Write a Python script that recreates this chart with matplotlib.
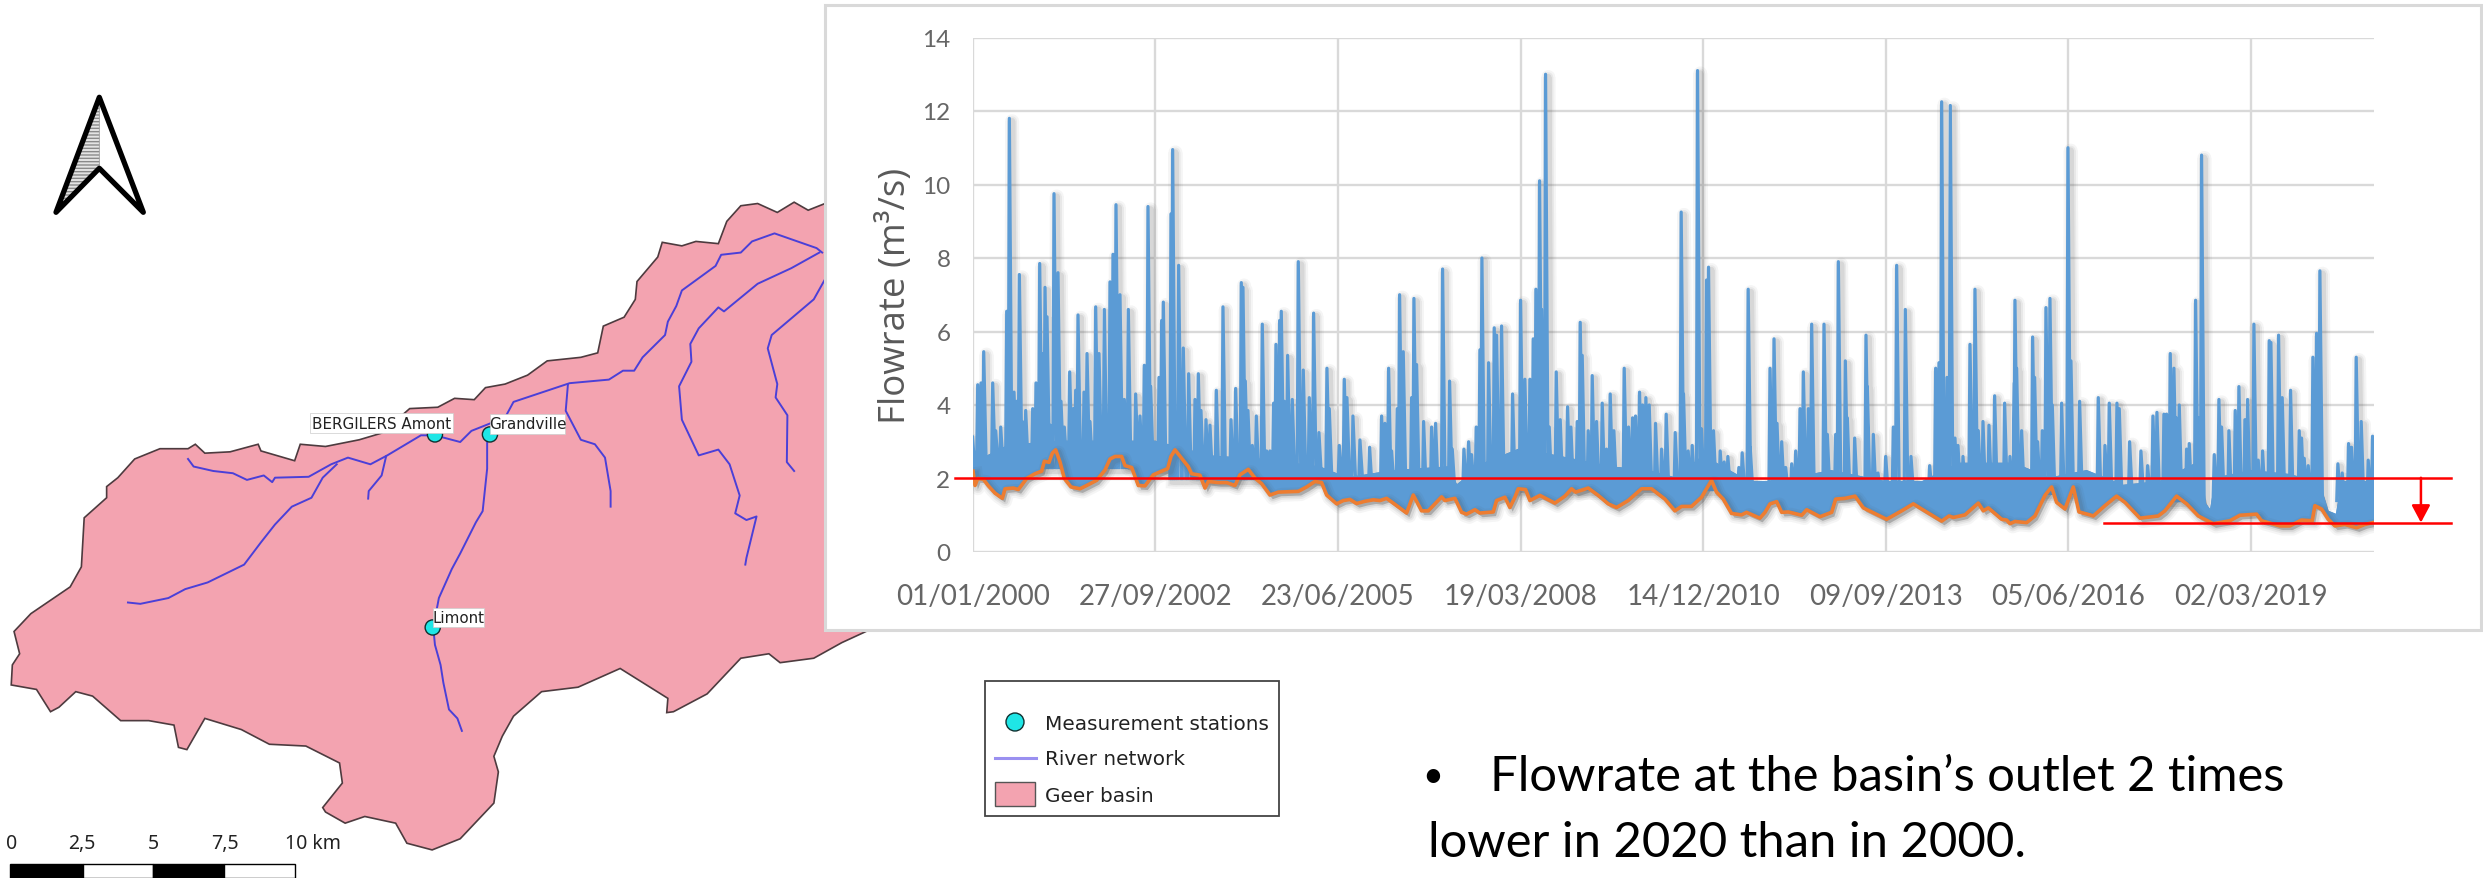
import numpy as np
import matplotlib
matplotlib.use("Agg")
import matplotlib.pyplot as plt
import matplotlib.patheffects as pe
from matplotlib.patches import Polygon, Rectangle, Ellipse

W, H = 2483, 879

# ---------- chart data: readings along the time axis (position, flowrate m3/s), one list per period
spikes_p1 = [(22,3.15),(38,4.55),(48,4.6),(56,5.45),(70,2.6),(83,4.6),(92,3.3),(107,3.4),(125,6.55),(133,11.8),(147,4.35),(155,4.1),(163,7.55),(172,3.55),(182,3.85),(203,3.9),(213,4.6),(224,7.85),(232,5.4),(240,7.2),(246,6.4),(256,3.45),(267,9.75),(279,7.6),(288,4.1),(298,3.4),(314,4.9),(325,3.9),(332,4.4),(339,6.45),(357,4.35),(366,5.4),(375,3.55),(392,6.67),(402,5.4),(418,6.6),(435,7.35),(444,8.1),(453,9.45),(465,7.0),(478,4.15),(490,6.6),(512,4.3),(525,3.7),(538,5.08),(549,9.4),(557,4.5),(582,4.75),(590,6.3),(595,6.8)]
spikes_p2 = [(18,9.2),(23,10.95),(41,7.8),(55,5.55),(71,4.85),(90,4.15),(100,4.85),(108,3.85),(123,3.6),(135,3.45),(154,4.4),(174,6.67),(198,3.6),(212,4.45),(229,7.33),(234,7.2),(241,4.65),(249,3.85),(262,2.9),(274,3.7),(292,6.2),(305,2.75),(315,2.75),(326,4.05),(333,5.65),(344,6.3),(349,6.55),(358,4.1),(368,5.35),(382,4.15),(400,7.9),(415,4.95),(433,4.2),(446,6.5),(462,3.25),(486,5.0),(493,3.9),(523,2.9),(538,4.7),(546,4.2),(564,3.7),(585,3.05)]
spikes_p3 = [(14,2.85),(50,3.7),(60,3.5),(71,5.0),(80,2.75),(97,3.9),(104,7.0),(115,5.45),(140,4.2),(147,6.9),(155,5.1),(176,3.55),(200,3.4),(212,3.5),(233,7.7),(254,4.65),(262,2.8),(297,2.8),(311,3.0),(320,2.65),(334,3.4),(345,5.5),(351,8.0),(371,5.15),(388,6.1),(395,5.9),(410,6.15),(443,4.3),(467,6.85),(480,4.7),(495,4.7),(505,5.8),(513,7.15),(524,10.1),(530,6.6),(542,13.0),(553,3.4),(574,4.9),(586,3.6)]
spikes_p4 = [(8,3.95),(18,3.4),(37,3.55),(46,6.25),(52,5.35),(70,3.3),(82,4.8),(95,3.55),(112,4.05),(125,2.8),(136,4.3),(147,3.3),(178,5.0),(191,3.4),(203,3.65),(212,3.7),(224,4.35),(233,4.0),(243,4.2),(253,4.0),(272,3.5),(290,2.8),(304,3.75),(331,3.25),(349,9.25),(356,4.3),(370,2.75),(382,2.9),(398,13.1),(410,3.35),(425,7.4),(431,7.75),(446,3.3),(466,2.75),(478,2.45),(489,2.6),(522,2.3),(532,2.7),(550,7.15),(556,2.85)]
spikes_p5 = [(15,5.0),(27,5.8),(36,3.5),(50,3.0),(62,2.3),(80,2.4),(92,2.75),(105,3.9),(115,4.9),(130,3.9),(140,6.2),(177,6.2),(187,3.2),(212,3.2),(220,7.9),(241,5.2),(247,3.65),(269,3.1),(303,5.9),(307,4.5),(325,3.2),(339,2.15),(362,2.6),(385,3.4),(395,7.8),(421,6.6),(438,2.6),(494,2.35),(512,5.0),(522,5.15),(530,12.25),(546,4.75),(556,12.15),(570,3.1),(579,2.9),(594,2.6)]
spikes_p6 = [(15,5.65),(30,7.15),(40,3.3),(54,3.55),(72,3.45),(89,4.25),(119,4.05),(135,2.6),(148,4.6),(150,6.85),(155,5.0),(170,3.3),(203,5.85),(209,4.75),(218,3.0),(232,3.3),(243,6.65),(255,6.9),(262,4.0),(290,4.05),(309,11.0),(318,5.2),(344,4.1),(400,4.2),(420,2.9),(433,4.05),(456,4.05),(463,3.9),(494,3.0),(528,2.75),(548,2.35),(564,3.7),(576,3.8),(597,3.75)]
spikes_p7 = [(5,3.75),(16,5.4),(27,5.0),(34,3.65),(43,4.0),(65,2.8),(73,2.95),(92,6.85),(103,3.65),(110,10.8),(148,2.65),(162,4.15),(170,3.4),(192,3.3),(211,3.85),(222,4.5),(240,3.6),(248,4.15),(267,6.2),(280,2.5),(293,2.75),(313,5.75),(318,5.7),(341,5.9),(352,4.2),(377,4.4),(403,3.3),(410,3.1),(418,2.55),(430,2.35),(444,5.3),(455,5.95),(465,7.65),(519,2.4),(532,2.15),(551,2.95),(560,2.85),(574,5.3),(589,3.55),(610,2.5),(623,3.15)]
spike_floor = [2.3, 2.0, 1.7, 1.7, 1.6, 1.6, 1.4]

base_p1 = [(24,2.2),(30,1.81),(38,2.0),(55,1.98),(70,1.8),(90,1.6),(112,1.46),(120,1.72),(145,1.74),(160,1.7),(185,2.0),(210,2.13),(230,2.2),(238,2.47),(252,2.44),(262,2.69),(272,2.78),(285,2.45),(298,2.0),(318,1.77),(345,1.72),(365,1.81),(395,1.95),(420,2.23),(435,2.53),(450,2.6),(470,2.6),(480,2.35),(500,2.3),(520,1.81),(540,1.8),(565,2.1),(585,2.18)]
base_p2 = [(8,2.27),(18,2.6),(30,2.78),(50,2.55),(70,2.32),(80,2.13),(105,2.09),(120,1.74),(130,1.92),(160,1.89),(185,1.89),(210,1.81),(225,2.1),(250,2.25),(270,2.01),(290,1.86),(315,1.55),(340,1.63),(400,1.65),(425,1.77),(450,1.92),(470,1.89),(485,1.55),(515,1.31),(535,1.4),(555,1.43),(575,1.32),(600,1.38)]
base_p3 = [(25,1.42),(45,1.4),(65,1.46),(85,1.33),(125,1.06),(145,1.55),(170,1.12),(190,1.12),(230,1.5),(240,1.4),(270,1.46),(290,1.08),(305,1.03),(330,1.15),(345,1.06),(385,1.09),(395,1.4),(420,1.49),(435,1.21),(450,1.49),(460,1.72),(482,1.7),(495,1.4),(525,1.54),(570,1.33)]
base_p4 = [(0,1.52),(20,1.72),(32,1.63),(70,1.74),(100,1.54),(130,1.31),(155,1.21),(190,1.4),(230,1.72),(260,1.72),(300,1.44),(330,1.12),(350,1.24),(380,1.24),(410,1.49),(440,1.95),(455,1.63),(475,1.44),(500,1.05),(530,1.01),(545,1.08),(585,0.92)]
base_p5 = [(0,1.08),(15,1.31),(35,1.37),(50,1.08),(70,1.09),(110,1.0),(125,1.15),(165,0.96),(200,1.08),(212,1.44),(240,1.46),(270,1.52),(295,1.2),(320,1.09),(365,0.89),(410,1.12),(445,1.31),(470,1.17),(530,0.84),(552,0.98),(565,0.94),(580,0.97)]
base_p6 = [(0,1.01),(40,1.33),(55,1.12),(70,1.2),(110,0.89),(125,0.87),(135,0.77),(150,0.83),(185,0.8),(210,0.98),(240,1.54),(260,1.77),(275,1.35),(300,1.17),(325,1.77),(342,1.09),(375,1.01),(385,0.98),(420,1.26),(455,1.52),(480,1.35),(525,0.92),(580,0.98)]
base_p7 = [(0,1.12),(35,1.52),(65,1.31),(100,0.98),(145,0.77),(195,0.85),(225,1.0),(275,1.03),(290,0.85),(345,0.71),(375,0.71),(410,0.87),(442,0.85),(450,1.26),(470,1.17),(490,0.89),(510,0.71),(540,0.75),(575,0.66),(600,0.75),(625,0.8)]
period_start = [-42, 1053, 2148, 3243, 4339, 5434, 6529]
days_per_step = 1.825

mass_days = [0,200,500,800,1000,1300,1600,1900,2050,2300,2600,2650,2800,3000,3300,3500,3700,3850,4000,4250,4400,4700,5000,5200,5400,5700,5900,6100,6300,6500,6700,6750,6780,6810,7000,7200,7370,7420,7470,7500,7670]
mass_top  = [2.4,2.9,3.0,3.0,3.0,2.6,2.5,2.3,2.0,2.2,2.3,1.8,2.4,2.8,2.5,2.3,2.2,2.0,2.6,1.9,1.9,2.2,1.9,1.9,2.4,2.4,2.0,2.2,1.8,1.9,2.4,1.3,1.1,2.0,2.2,2.1,1.9,1.1,1.0,1.9,1.9]

tick_days = [0,1000,2000,3000,4000,5000,6000,7000]
tick_dates = ["01/01/2000","27/09/2002","23/06/2005","19/03/2008","14/12/2010","09/09/2013","05/06/2016","02/03/2019"]
y_ticks = [0,2,4,6,8,10,12,14]
level_2000 = 2.02
level_2020 = 0.80

# ---------- map data (map grid units)
basin_x = [1470,1440,1415,1385,1350,1320,1295,1280,1240,1215,1180,1172,1135,1132,1112,1075,1065,1035,975,940,900,865,845,810,780,730,680,640,580,535,525,465,460,410,365,348,335,285,240,210,190,190,150,145,125,90,55,25,35,22,20,65,90,105,135,165,215,265,310,318,333,365,430,480,545,605,610,575,580,615,650,705,725,770,820,880,888,880,895,915,965,1030,1105,1190,1188,1200,1260,1320,1370,1390,1450,1500,1538,1568,1568]
basin_y = [55,70,52,75,55,60,95,145,140,150,142,175,230,270,310,330,390,400,408,440,460,468,495,492,512,515,570,585,600,595,632,610,595,612,615,595,605,605,628,670,690,715,760,870,915,945,975,1015,1065,1090,1135,1145,1195,1185,1150,1160,1215,1215,1225,1275,1280,1210,1235,1268,1272,1310,1355,1410,1420,1445,1430,1445,1490,1505,1480,1400,1330,1295,1250,1205,1150,1140,1098,1165,1197,1195,1155,1075,1065,1085,1075,1040,1018,1000,40]
rivers = [
 [(1465,165),(1455,155),(1380,122),(1340,140),(1320,165),(1285,170),(1275,195),(1215,250),(1205,285),(1190,320),(1185,350),(1145,400),(1130,430),(1110,430),(1085,450),(1015,458),(915,500),(900,535),(860,555),(840,565),(820,590),(775,575),(750,575),(690,620),(660,640),(620,625),(590,640),(550,668),(490,670),(485,680),(470,665),(440,675),(415,660),(380,655),(345,645),(335,628)],
 [(600,640),(575,670),(555,715),(520,735),(490,775),(465,815),(435,865),(370,905),(330,920),(300,940),(250,953),(228,950)],
 [(688,622),(680,665),(657,700),(656,717)],
 [(868,590),(868,650),(860,745),(848,770),(820,840),(805,875),(782,940),(772,1006),(775,1045),(785,1090),(790,1130),(800,1190),(815,1210),(823,1238)],
 [(1012,460),(1008,520),(1035,585),(1060,595),(1078,625),(1088,700),(1088,735)],
 [(1460,165),(1410,200),(1350,235),(1290,297),(1280,288),(1245,335),(1230,370),(1232,410),(1210,465),(1215,540),(1245,620),(1280,607),(1300,640),(1318,710),(1310,750),(1330,765),(1348,757),(1330,850),(1328,865)],
 [(1470,225),(1450,270),(1375,350),(1368,380),(1385,460),(1382,490),(1403,530),(1402,635),(1415,655)],
]
station_names = ["BERGILERS Amont","Grandville","Limont"]
station_x = [775,873,771]
station_y = [573,573,1006]
scale_labels = ["0","2,5","5","7,5","10 km"]
legend_labels = ["Measurement stations","River network","Geer basin"]
bullet_lines = ["Flowrate at the basin\u2019s outlet 2 times","lower in 2020 than in 2000."]

PINK = "#F3A3B0"; RIVER = "#4A3FD8"; CYAN = "#1FE6E6"; GREY = "#595959"
BLUE = "#5B9BD5"; ORANGE = "#ED7D31"; RED = "#FF0000"; GRID = "#D9D9D9"

fig = plt.figure(figsize=(W/100, H/100), dpi=100, facecolor="white")

def rect(l, t, r, b):
    return [l/W, 1-b/H, (r-l)/W, (b-t)/H]

# ---------- map
mp = fig.add_axes(rect(0,180,880,879), zorder=1)
mp.set_xlim(0,1568); mp.set_ylim(1568,0); mp.axis("off")
mp.add_patch(Polygon(np.column_stack([basin_x,basin_y]), closed=True, fc=PINK, ec="#4d3b3f", lw=1.2, clip_on=False))
for r in rivers:
    xy = np.array(r)
    mp.plot(xy[:,0], xy[:,1], color=RIVER, lw=1.4, solid_joinstyle="round", clip_on=False)
for sx, sy in zip(station_x, station_y):
    mp.add_patch(Ellipse((sx,sy), 27, 34, fc=CYAN, ec="#103030", lw=1.0, zorder=3))
boxes = [(553,525,807,570),(873,527,1007,572),(772,962,863,1006)]
for name,(l,t,r,b) in zip(station_names, boxes):
    mp.add_patch(Rectangle((l,t), r-l, b-t, fc="white", ec="#cccccc", lw=0.5, zorder=4))
    mp.text((l+r)/2, (t+b)/2, name, ha="center", va="center", fontsize=10.9, family="DejaVu Sans", color="#222222", zorder=5)
edges = [18,147,272,400,526]
for i in range(4):
    mp.add_patch(Rectangle((edges[i],1537), edges[i+1]-edges[i], 30, fc="black" if i%2==0 else "white", ec="black", lw=1, clip_on=False))
for lab, x in zip(scale_labels, [20,146,273,400,557]):
    mp.text(x, 1490, lab, ha="center", va="center", fontsize=14, family="Noto Sans", color="#222222")

# ---------- overlay in figure pixels
ov = fig.add_axes([0,0,1,1], zorder=2)
ov.set_xlim(0,W); ov.set_ylim(H,0); ov.axis("off")
ov.add_patch(Rectangle((825,6), 1656, 625, fc="white", ec=GRID, lw=2.2))
ov.add_patch(Polygon([(99.3,100),(99.3,169),(59,208)], closed=True, fc="#e4e4e4", ec="#8a8a8a", hatch="-----", lw=0.5))
ov.add_patch(Polygon([(99.3,98.3),(143.3,213.3),(99.3,169.3),(56,213.3)], closed=True, fc="none", ec="black", lw=3.8, joinstyle="round"))
# legend
ov.add_patch(Rectangle((985,682), 294, 135, fc="white", ec="#444444", lw=1.3))
ov.add_patch(Ellipse((1015,723), 18, 18, fc=CYAN, ec="#103030", lw=1.0))
ov.plot([995,1036],[759,759], color="#9A90F0", lw=2.2)
ov.add_patch(Rectangle((995,783), 40, 24, fc=PINK, ec="#555555", lw=1.0))
for lab, y in zip(legend_labels, [725,760,797]):
    ov.text(1045, y, lab, ha="left", va="center", fontsize=14.4, family="DejaVu Sans", color="#222222")
# bullet text
ov.text(1433, 777, "\u2022", ha="center", va="center", fontsize=26, family="Lato", color="black")
ov.text(1490, 777, bullet_lines[0], ha="left", va="center", fontsize=35.3, family="Lato", color="black")
ov.text(1428, 843, bullet_lines[1], ha="left", va="center", fontsize=35.3, family="Lato", color="black")

# ---------- chart
ax = fig.add_axes(rect(972.7,38.5,2374,553), zorder=3)
ax.patch.set_alpha(0)
ax.set_xlim(0,7674); ax.set_ylim(0,14)
for s in ax.spines.values():
    s.set_visible(False)
ax.set_axisbelow(True)
ax.set_xticks(tick_days, tick_dates); ax.set_yticks(y_ticks)
ax.grid(True, color=GRID, lw=1.7)
ax.tick_params(length=0)
ax.tick_params(axis="x", labelsize=20, labelcolor="#666666", pad=22)
ax.tick_params(axis="y", labelsize=17.5, labelcolor="#666666", pad=16)
for t in ax.get_xticklabels()+ax.get_yticklabels():
    t.set_family("Lato")
ax.set_ylabel("Flowrate (m\u00b3/s)", fontsize=26.4, family="Open Sans", color=GREY, labelpad=6)

all_spikes = [spikes_p1,spikes_p2,spikes_p3,spikes_p4,spikes_p5,spikes_p6,spikes_p7]
all_base = [base_p1,base_p2,base_p3,base_p4,base_p5,base_p6,base_p7]
line_x, line_y = [], []
for start, spikes, floor in zip(period_start, all_spikes, spike_floor):
    for step, q in spikes:
        d = start + days_per_step*step
        line_x += [d-6, d, d+14, np.nan]
        line_y += [floor, q, floor, np.nan]
base_x, base_y = [], []
for start, base in zip(period_start, all_base):
    for step, q in base:
        base_x.append(start + days_per_step*step)
        base_y.append(q)

shadow = [pe.SimpleLineShadow(offset=(2,-2), shadow_color="#444444", alpha=0.05, linewidth=10),
          pe.SimpleLineShadow(offset=(2,-2), shadow_color="#444444", alpha=0.07, linewidth=7),
          pe.SimpleLineShadow(offset=(2,-2), shadow_color="#444444", alpha=0.10, linewidth=4.5),
          pe.Normal()]
mass_x = list(base_x)+mass_days[::-1]
mass_y = list(base_y)+mass_top[::-1]
# soft shadow below everything, spikes next, then the solid low-flow mass over the spike feet
ax.fill(mass_x, mass_y, fc=BLUE, ec=BLUE, lw=1.5, zorder=2,
        path_effects=[pe.SimplePatchShadow(offset=(2,-3), shadow_rgbFace="#444444", alpha=0.3), pe.Normal()])
ax.plot(line_x, line_y, color=BLUE, lw=2.3, solid_joinstyle="round", zorder=3, path_effects=shadow)
ax.fill(mass_x, mass_y, fc=BLUE, ec=BLUE, lw=1.5, zorder=3.5)
ax.plot(base_x, base_y, color=ORANGE, lw=2.6, solid_joinstyle="round", zorder=4, path_effects=shadow)
ax.plot([-97,8095],[level_2000,level_2000], color=RED, lw=1.8, zorder=5, clip_on=False)
ax.plot([6195,8095],[level_2020,level_2020], color=RED, lw=1.8, zorder=5, clip_on=False)
ax.annotate("", xy=(7931,level_2020), xytext=(7931,level_2000), zorder=6, annotation_clip=False,
            arrowprops=dict(arrowstyle="-|>,head_length=0.75,head_width=0.4", color=RED, lw=1.8, shrinkA=0, shrinkB=0, mutation_scale=14))

fig.savefig("out.png", dpi=100)
